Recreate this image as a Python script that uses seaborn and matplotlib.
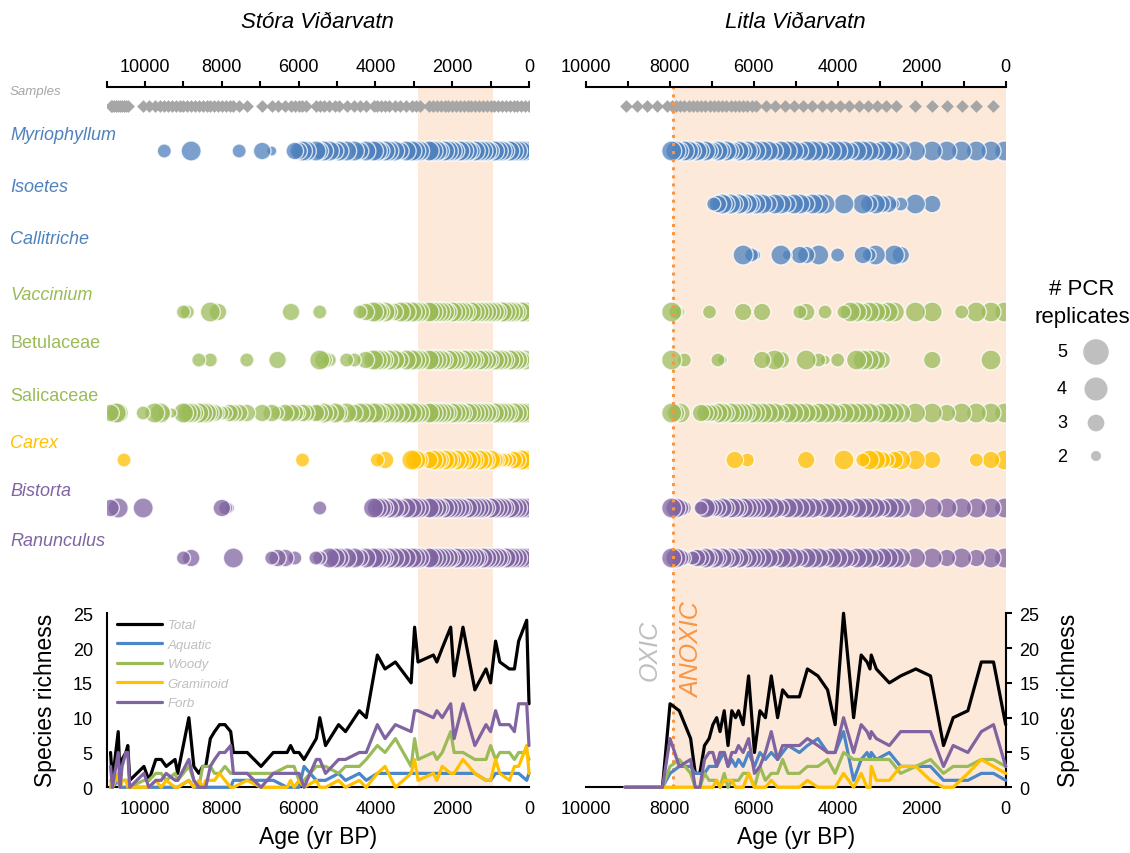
import matplotlib
matplotlib.use("Agg")
import matplotlib.pyplot as plt
import pandas as pd
import seaborn as sns
from matplotlib.ticker import FuncFormatter, MultipleLocator

# ---------------------------------------------------------------- data
TAXA = ["Myriophyllum", "Isoetes", "Callitriche", "Vaccinium", "Betulaceae",
        "Salicaceae", "Carex", "Bistorta", "Ranunculus"]
TAXON_GROUP = ["Aquatic", "Aquatic", "Aquatic", "Woody", "Woody", "Woody",
               "Graminoid", "Forb", "Forb"]
SERIES = ["Total", "Aquatic", "Woody", "Graminoid", "Forb"]

# Stora Vidarvatn: sample ages (yr BP) and PCR replicates per taxon (0 = absent)
SV_AGES = [10900, 10850, 10800, 10750, 10700, 10650, 10600, 10550, 10500, 10450,
           10050, 9900, 9750, 9600, 9500, 9400, 9300, 9200, 9100, 9000, 8900, 8800,
           8700, 8600, 8500, 8400, 8300, 8200, 8100, 8000, 7900, 7800, 7700, 7550, 7350,
           6950, 6700, 6550, 6350, 6200, 6100, 6000, 5900, 5800,
           5550, 5450, 5350, 5200, 5050, 4950,
           4750, 4550, 4400, 4250, 4050, 3950, 3850, 3750, 3650, 3500, 3350, 3200,
           3050, 2950, 2850,
           2600, 2500, 2400, 2300, 2200, 2100, 2000, 1900, 1800, 1700, 1600, 1500,
           1400, 1300, 1200, 1100, 1000, 900, 800, 700, 600, 500, 400, 300, 200, 100, 0]
SV_SAMPLES = SV_AGES
SV_MYRIOPHYLLUM = ("0000000000 0000300000050000000000030 420004455 545545 "
                   "554555455545 555 555455545554555545554555554")
SV_ISOETES = ""
SV_CALLITRICHE = ""
SV_VACCINIUM = ("0000000000 0000000003300000504000000 000040000 030000 "
                "003455454455 555 555554555545555555455554555")
SV_BETULACEAE = ("0000000000 0000000000000300300000003 004000000 054300 "
                 "330455545545 555 555545554555455545554555452")
SV_SALICACEAE = ("4005500000 3055302005554555443334444 443444344 445454 "
                 "545555455555 555 555554555455555545555455555")
SV_CAREX = ("0000000300 0000000000000000000000000 000000030 000000 "
            "000003040000 554 455455455455455454333344555")
SV_BISTORTA = ("4000500000 5000000000000000000432000 000000000 030000 "
               "000055545545 555 555455555455555455554555555")
SV_RANUNCULUS = ("0000000000 0000000003040000000000500 034403000 330555 "
                 "554555545555 555 555555455555545555545555555")

# Litla Vidarvatn
LV_AGES = [9050, 8780, 8540, 8300, 8060,
           7950, 7850, 7750, 7650, 7550, 7450, 7350, 7250, 7150, 7050, 6950, 6850,
           6750, 6650, 6550, 6450, 6350, 6250, 6150, 6050, 5950,
           5800, 5650, 5500, 5350, 5200, 5050, 4900, 4750, 4600, 4450, 4300, 4150,
           4000, 3850, 3700, 3550, 3400, 3250, 3100, 2950, 2800, 2650, 2500,
           2150, 1750, 1400, 1050, 700, 350, 30]
LV_SAMPLES = [9050, 8780, 8540, 8300, 8060, 7950, 7850, 7750, 7650, 7550, 7450,
              7350, 7250, 7150, 7050, 6950, 6850, 6750, 6650, 6550, 6450, 6350,
              6250, 6150, 6050, 5950, 5700, 5480, 5260, 5040, 4820, 4600, 4380,
              4160, 3940, 3720, 3500, 3280, 3060, 2840, 2620, 2150, 1750, 1400,
              1050, 700, 300]
LV_MYRIOPHYLLUM = "00000 554554545445454454545 55455545554555455545545 5555555"
LV_ISOETES = "00000 000000000034545454545 54554554555005005454423 5400000"
LV_CALLITRICHE = "00000 000000000000000005032 00052044050030004350054 0000000"
LV_VACCINIUM = "00000 532000000300000004000 40000034003003554554550 5503555"
LV_BETULACEAE = "00000 500300000003200000000 40540005032030055554000 0400050"
LV_SALICACEAE = "00000 545000044445545555455 55545555455545555545555 5545555"
LV_CAREX = "00000 000000000000000400300 00000004000005003554345 5400345"
LV_BISTORTA = "00000 554300035444545545555 55545555545555455554555 5555555"
LV_RANUNCULUS = "00000 554303445454545454555 55455545554555455545555 5545455"

# species richness
SV_R_AGES = [10900, 10850, 10700, 10650, 10600, 10500, 10450, 10400, 10030, 9900,
             9720, 9580, 9450, 9220, 9150, 8860, 8730, 8600, 8500, 8420,
             8300, 8190, 8060, 7920, 7770, 7700, 7340, 6980, 6660, 6300,
             6210, 6120, 5990, 5860, 5540, 5450, 5300, 4960, 4780, 4420,
             4240, 3950, 3750, 3480, 3070, 2980, 2890, 2490, 2400, 2260,
             2040, 1950, 1720, 1410, 1120, 1000, 870, 760, 510, 380,
             270, 60, 0]
SV_TOTAL = [5, 1, 8, 1, 4, 5, 6, 1, 3, 1,
            4, 4, 3, 4, 2, 10, 3, 2, 3, 3,
            7, 8, 9, 9, 8, 5, 5, 3, 5, 5,
            6, 5, 5, 4, 7, 10, 6, 9, 8, 11,
            10, 19, 17, 18, 15, 23, 18, 19, 18, 20,
            23, 16, 23, 14, 17, 15, 21, 18, 17, 17,
            21, 24, 12]
SV_AQUATIC = [0, 0, 1, 0, 0, 0, 0, 0, 0, 0,
              0, 0, 0, 0, 0, 1, 0, 0, 0, 0,
              0, 0, 0, 0, 0, 1, 1, 1, 1, 0,
              0, 0, 0, 3, 1, 1, 1, 2, 1, 2,
              1, 2, 2, 2, 2, 2, 2, 2, 2, 2,
              2, 2, 2, 2, 1, 1, 2, 2, 2, 2,
              2, 1, 2]
SV_WOODY = [0, 1, 1, 0, 1, 1, 1, 0, 1, 1,
            2, 2, 1, 2, 1, 3, 1, 0, 3, 3,
            3, 2, 2, 3, 2, 2, 2, 2, 2, 3,
            3, 3, 1, 1, 3, 3, 3, 2, 3, 3,
            4, 6, 5, 7, 3, 7, 4, 5, 4, 5,
            8, 5, 5, 4, 4, 6, 4, 5, 5, 4,
            5, 5, 4]
SV_GRAMINOID = [1, 0, 2, 0, 1, 1, 0, 0, 0, 0,
                1, 0, 1, 0, 0, 1, 0, 1, 0, 1,
                1, 1, 2, 1, 0, 0, 1, 0, 0, 0,
                1, 0, 1, 0, 1, 0, 0, 1, 0, 1,
                0, 2, 3, 0, 2, 4, 1, 2, 1, 3,
                2, 2, 4, 2, 1, 1, 4, 2, 1, 3,
                3, 6, 2]
SV_FORB = [3, 0, 5, 0, 3, 5, 5, 0, 2, 0,
           1, 1, 2, 1, 1, 4, 1, 0, 0, 0,
           3, 4, 5, 5, 6, 2, 2, 0, 2, 2,
           2, 2, 2, 0, 4, 4, 2, 4, 4, 5,
           5, 9, 7, 9, 8, 11, 11, 10, 11, 10,
           12, 7, 12, 6, 9, 8, 11, 9, 9, 8,
           12, 12, 6]

LV_R_AGES = [9060, 8170, 7990, 7770, 7500, 7390, 7280, 7170, 7060, 6970,
             6880, 6800, 6700, 6610, 6520, 6430, 6360, 6250, 6120, 5980,
             5850, 5720, 5580, 5430, 5310, 5180, 4910, 4720, 4470, 4240,
             4060, 3860, 3620, 3440, 3300, 3230, 3200, 3080, 2770, 2500,
             2140, 1790, 1480, 1250, 900, 580, 290, 0]
LV_TOTAL = [0, 0, 12, 11, 7, 2, 2, 6, 7, 9,
            10, 8, 11, 6, 11, 10, 11, 9, 16, 5,
            11, 10, 16, 10, 14, 13, 13, 17, 16, 14,
            9, 25, 10, 19, 18, 17, 19, 17, 15, 16,
            17, 16, 6, 10, 11, 18, 18, 9]
LV_AQUATIC = [0, 0, 2, 3, 3, 2, 2, 2, 3, 3,
              3, 4, 5, 3, 4, 3, 4, 3, 5, 3,
              5, 4, 5, 4, 5, 6, 5, 6, 7, 5,
              5, 8, 1, 4, 5, 4, 5, 4, 5, 3,
              3, 3, 1, 1, 1, 2, 2, 1]
LV_WOODY = [0, 0, 3, 4, 2, 0, 0, 2, 1, 1,
            1, 0, 2, 0, 1, 1, 1, 2, 2, 0,
            3, 1, 2, 2, 4, 2, 2, 3, 3, 4,
            2, 5, 4, 4, 4, 4, 4, 4, 4, 2,
            3, 4, 2, 3, 3, 4, 4, 3]
LV_GRAMINOID = [0, 0, 0, 0, 0, 0, 0, 0, 0, 0,
                1, 0, 1, 1, 1, 0, 0, 0, 2, 0,
                0, 0, 1, 0, 0, 0, 0, 1, 0, 0,
                0, 2, 0, 2, 0, 0, 3, 1, 1, 3,
                3, 1, 0, 0, 2, 4, 3, 2]
LV_FORB = [0, 0, 7, 3, 4, 0, 0, 4, 5, 5,
           3, 5, 5, 3, 5, 5, 6, 5, 7, 2,
           3, 5, 8, 4, 6, 6, 6, 7, 6, 5,
           5, 10, 5, 9, 8, 7, 8, 7, 6, 8,
           8, 8, 3, 6, 5, 8, 9, 3]

LEGEND_REPS = [5, 4, 3, 2]

# ---------------------------------------------------------------- style
W, H = 1130, 854
GROUP_COLORS = {"Aquatic": "#4F81BD", "Woody": "#9BBB59",
                "Graminoid": "#FFC000", "Forb": "#8064A2"}
LINE_COLORS = {"Total": "black", "Aquatic": "#4A86C8", "Woody": "#9BBB59",
               "Graminoid": "#FFC000", "Forb": "#8064A2"}
PEACH = "#FCE9DA"
GREY = "#A6A6A6"
ORANGE = "#F79646"
BUBBLE_SIZES = {2: 52, 3: 102, 4: 159, 5: 207}
LEGEND_SIZES = {2: 52, 3: 145, 4: 275, 5: 340}
ROW_Y = [107, 152, 205, 256, 313, 361, 414, 461, 509, 559]  # samples + taxa, px
ITALIC = [True, True, True, True, False, False, True, True, True]

sns.set_style("white")
plt.rcParams["font.family"] = ["Liberation Sans", "DejaVu Sans"]
for key in ["text.color", "axes.labelcolor", "xtick.color", "ytick.color", "axes.edgecolor"]:
    plt.rcParams[key] = "black"


def reps(code, ages):
    vals = [int(c) for c in code.replace(" ", "")] if code else [0] * len(ages)
    if len(vals) != len(ages):
        raise ValueError(f"{len(vals)} values for {len(ages)} ages")
    return vals


def bubble_frame(ages, codes):
    rows = []
    for i, (taxon, code) in enumerate(zip(TAXA, codes)):
        for age, n in zip(ages, reps(code, ages)):
            if n > 0:
                rows.append({"age": age, "y": ROW_Y[i + 1], "taxon": taxon, "reps": n})
    return pd.DataFrame(rows).sort_values("age")


def richness_frame(ages, series):
    parts = [pd.DataFrame({"age": ages, "value": vals, "series": name})
             for name, vals in zip(SERIES, series)]
    return pd.concat(parts, ignore_index=True)


lakes = [
    dict(title="Stóra Viðarvatn", x0=106.7, x1=529.0, xmax=11000, band=(2900, 950),
         samples=SV_SAMPLES, side="left",
         bubbles=bubble_frame(SV_AGES, [SV_MYRIOPHYLLUM, SV_ISOETES, SV_CALLITRICHE,
                                        SV_VACCINIUM, SV_BETULACEAE, SV_SALICACEAE,
                                        SV_CAREX, SV_BISTORTA, SV_RANUNCULUS]),
         rich=richness_frame(SV_R_AGES, [SV_TOTAL, SV_AQUATIC, SV_WOODY,
                                         SV_GRAMINOID, SV_FORB])),
    dict(title="Litla Viðarvatn", x0=585.6, x1=1005.7, xmax=10000, band=(7930, 0),
         samples=LV_SAMPLES, side="right",
         bubbles=bubble_frame(LV_AGES, [LV_MYRIOPHYLLUM, LV_ISOETES, LV_CALLITRICHE,
                                        LV_VACCINIUM, LV_BETULACEAE, LV_SALICACEAE,
                                        LV_CAREX, LV_BISTORTA, LV_RANUNCULUS]),
         rich=richness_frame(LV_R_AGES, [LV_TOTAL, LV_AQUATIC, LV_WOODY,
                                         LV_GRAMINOID, LV_FORB])),
]

fig = plt.figure(figsize=(W / 100, H / 100), dpi=100)


def px_axes(x0, y0, x1, y1):
    return fig.add_axes([x0 / W, 1 - y1 / H, (x1 - x0) / W, (y1 - y0) / H])


def ftext(x, y, s, **kw):
    kw.setdefault("ha", "center")
    kw.setdefault("va", "center")
    fig.text(x / W, 1 - y / H, s, **kw)


age_fmt = FuncFormatter(lambda v, p: f"{int(round(v))}" if round(v) % 2000 == 0 else "")
taxon_palette = {t: GROUP_COLORS[g] for t, g in zip(TAXA, TAXON_GROUP)}

for lake in lakes:
    x0, x1 = lake["x0"], lake["x1"]

    # --- occurrence panel
    ax = px_axes(x0, 88, x1, 600)
    ax.set_xlim(lake["xmax"], 0)
    ax.set_ylim(600, 88)
    ax.axvspan(*lake["band"], color=PEACH, lw=0, zorder=0)
    sns.scatterplot(x=lake["samples"], y=[ROW_Y[0]] * len(lake["samples"]),
                    marker="D", s=42, color=GREY, linewidth=0, ax=ax, legend=False)
    sns.scatterplot(data=lake["bubbles"], x="age", y="y", hue="taxon",
                    palette=taxon_palette, size="reps", sizes=BUBBLE_SIZES,
                    alpha=0.75, edgecolor="white", linewidth=1.0, ax=ax, legend=False)
    ax.set(xlabel="", ylabel="", yticks=[])
    for s in ["left", "right", "bottom"]:
        ax.spines[s].set_visible(False)
    ax.spines["top"].set_linewidth(1.5)
    ax.xaxis.tick_top()
    ax.xaxis.set_major_locator(MultipleLocator(1000))
    ax.xaxis.set_major_formatter(age_fmt)
    ax.tick_params(axis="x", length=4, width=1.5, labelsize=13, pad=5, direction="out")
    ax.patch.set_alpha(0)

    # --- richness panel
    ax2 = px_axes(x0, 600, x1, 788.3)
    ax2.set_xlim(lake["xmax"], 0)
    ax2.set_ylim(0, 27.05)
    ax2.axvspan(*lake["band"], color=PEACH, lw=0, zorder=0)
    sns.lineplot(data=lake["rich"], x="age", y="value", hue="series", hue_order=SERIES,
                 palette=LINE_COLORS, estimator=None, lw=2.3, ax=ax2, legend=False)
    lines = list(ax2.get_lines())
    for ln in lines:
        ln.set_clip_on(False)
        ln.set_zorder(3)
    ax2.set(xlabel="", ylabel="")
    ax2.spines["top"].set_visible(False)
    ax2.spines["bottom"].set_linewidth(1.5)
    if lake["side"] == "left":
        ax2.spines["right"].set_visible(False)
    else:
        ax2.spines["left"].set_visible(False)
        ax2.yaxis.tick_right()
    ax2.spines[lake["side"]].set_linewidth(1.5)
    ax2.spines[lake["side"]].set_bounds(0, 25)
    ax2.xaxis.set_major_locator(MultipleLocator(1000))
    ax2.xaxis.set_major_formatter(age_fmt)
    ax2.set_yticks([0, 5, 10, 15, 20, 25])
    ax2.tick_params(axis="both", length=4, width=1.5, labelsize=13, direction="out")
    ax2.tick_params(axis="x", pad=5)
    ax2.tick_params(axis="y", pad=6)
    ax2.patch.set_alpha(0)

    if lake["side"] == "left":
        ax2.legend(lines, SERIES, loc="upper left", bbox_to_anchor=(117 / W, 1 - 620 / H),
                   bbox_transform=fig.transFigure, frameon=False, borderpad=0,
                   borderaxespad=0, handlelength=3.4, handletextpad=0.45,
                   labelspacing=0.55, labelcolor="#BFBFBF",
                   prop={"style": "italic", "size": 9.5})
    else:
        for a in (ax, ax2):
            a.axvline(7930, color=ORANGE, ls=":", lw=2.2, zorder=1)

    cx = (x0 + x1) / 2
    ftext(cx, 22, lake["title"], fontsize=16, style="italic")
    ftext(cx, 838, "Age (yr BP)", fontsize=16.5)

ftext(46, 700, "Species richness", fontsize=16.5, rotation=90)
ftext(1068, 700, "Species richness", fontsize=16.5, rotation=90)

# row labels
ftext(10, 92, "Samples", ha="left", fontsize=9.5, style="italic", color=GREY)
for i, taxon in enumerate(TAXA):
    ftext(10, ROW_Y[i + 1] - 17, taxon, ha="left", fontsize=13,
          style="italic" if ITALIC[i] else "normal",
          color=GROUP_COLORS[TAXON_GROUP[i]])

# redox labels
ftext(650, 650, "OXIC", rotation=90, fontsize=18, style="italic", color="#BFBFBF")
ftext(692, 650, "ANOXIC", rotation=90, fontsize=18, style="italic", color=ORANGE)

# size legend
ftext(1082, 290, "# PCR", fontsize=16)
ftext(1082, 317, "replicates", fontsize=16)
leg_ax = px_axes(1040, 330, 1130, 475)
leg_ax.set_xlim(1040, 1130)
leg_ax.set_ylim(475, 330)
leg_ax.axis("off")
leg_y = [353, 390, 424, 457]
sns.scatterplot(x=[1096] * len(LEGEND_REPS), y=leg_y, size=LEGEND_REPS,
                sizes=LEGEND_SIZES, color="#BFBFBF", linewidth=0, ax=leg_ax, legend=False)
for n, y in zip(LEGEND_REPS, leg_y):
    ftext(1062, y, str(n), fontsize=13)

fig.savefig("out.png", dpi=100)
